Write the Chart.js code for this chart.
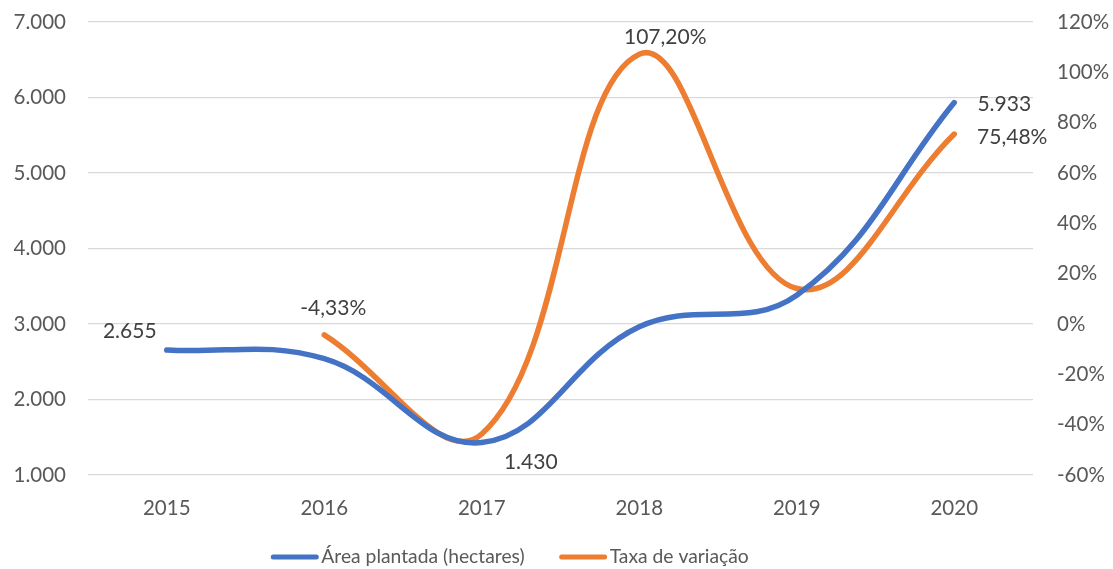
<!DOCTYPE html>
<html><head><meta charset="utf-8">
<script src="https://cdn.jsdelivr.net/npm/chart.js@4"></script>
<style>html,body{margin:0;padding:0;background:#fff}#wrap{width:1113px;height:569px}</style>
</head><body><div id="wrap"><canvas id="c" width="1113" height="569"></canvas></div>
<script>
const years = ['2015','2016','2017','2018','2019','2020'];
const areaPlantada = [2655, 2540, 1430, 2963, 3381, 5933];
const taxaVariacao = [null, -0.0433, -0.437, 1.072, 0.141, 0.7548];
const areaLabelIdx = [0, 2, 5];
const taxaLabelIdx = [1, 3, 5];
const FONT = 'Lato';
const FS = 20.5;
const LFS = 19.3;

const fmtNum = v => Math.round(v).toString().replace(/\B(?=(\d{3})+(?!\d))/g, '.');
const fmtPct = v => (v*100).toFixed(2).replace('.', ',') + '%';
const fmtPctTick = v => Math.round(v*100) + '%';

const labelPlugin = {
  id: 'dl',
  afterDatasetsDraw(chart) {
    const ctx = chart.ctx;
    ctx.save();
    ctx.font = '21px ' + FONT;
    ctx.fillStyle = '#404040';
    ctx.textBaseline = 'middle';
    const m0 = chart.getDatasetMeta(0), m1 = chart.getDatasetMeta(1);
    const offA = {0: [-37, -19], 2: [49, 20], 5: [50, 2]};
    const offT = {1: [9, -27], 3: [26, -17], 5: [58, 3]};
    ctx.textAlign = 'center';
    areaLabelIdx.forEach(i => {
      const p = m0.data[i]; const o = offA[i];
      ctx.fillText(fmtNum(areaPlantada[i]), p.x + o[0], p.y + o[1]);
    });
    taxaLabelIdx.forEach(i => {
      const p = m1.data[i]; const o = offT[i];
      ctx.fillText(fmtPct(taxaVariacao[i]), p.x + o[0], p.y + o[1]);
    });
    ctx.restore();
  }
};

// Legend drawn from the chart's datasets (line sample + label)
const legendPlugin = {
  id: 'lg',
  afterDraw(chart) {
    const ctx = chart.ctx;
    ctx.save();
    ctx.font = LFS + 'px ' + FONT;
    const lineW = 47, gap = 3, itemGap = 35, cy = 557, centerX = 510;
    const items = chart.data.datasets.map(d => ({text: d.label, color: d.borderColor, w: ctx.measureText(d.label).width}));
    const total = items.reduce((s, it) => s + lineW + gap + it.w, 0) + itemGap * (items.length - 1);
    let x = centerX - total / 2;
    items.forEach(it => {
      ctx.strokeStyle = it.color; ctx.lineWidth = 5; ctx.lineCap = 'round';
      ctx.beginPath(); ctx.moveTo(x + 2, cy); ctx.lineTo(x + lineW - 2, cy); ctx.stroke();
      ctx.fillStyle = '#595959'; ctx.textAlign = 'left'; ctx.textBaseline = 'middle';
      ctx.fillText(it.text, x + lineW + gap, cy);
      x += lineW + gap + it.w + itemGap;
    });
    ctx.restore();
  }
};

const padFix = s => { s.paddingTop = 0; s.paddingBottom = 0; };

new Chart(document.getElementById('c'), {
  type: 'line',
  data: {
    labels: years,
    datasets: [
      {label: 'Área plantada (hectares)', data: areaPlantada, borderColor: '#4472C4', backgroundColor: '#4472C4',
       borderWidth: 5.5, pointRadius: 0, tension: 0.4, yAxisID: 'y', borderCapStyle: 'round'},
      {label: 'Taxa de variação', data: taxaVariacao, borderColor: '#ED7D31', backgroundColor: '#ED7D31',
       borderWidth: 5.5, pointRadius: 0, tension: 0.4, yAxisID: 'y1', borderCapStyle: 'round'}
    ]
  },
  options: {
    responsive: false, animation: false,
    layout: {padding: {top: 22, left: 0, right: 0, bottom: 0}},
    plugins: {
      tooltip: {enabled: false},
      legend: {display: false}
    },
    scales: {
      x: {
        offset: true,
        grid: {display: false, drawTicks: false}, border: {display: false},
        ticks: {color: '#595959', font: {family: FONT, size: FS}, padding: 21},
        afterFit(s) { s.height = 94; }
      },
      y: {
        position: 'left', min: 1000, max: 7000,
        ticks: {stepSize: 1000, color: '#595959', font: {family: FONT, size: FS}, padding: 22, callback: v => fmtNum(v)},
        grid: {color: '#d9d9d9', lineWidth: 1.3, drawTicks: false}, border: {display: false},
        afterFit(s) { s.width = 88; padFix(s); }
      },
      y1: {
        position: 'right', min: -0.6, max: 1.2,
        ticks: {stepSize: 0.2, color: '#595959', font: {family: FONT, size: FS}, padding: 24, callback: v => fmtPctTick(v)},
        grid: {display: false, drawTicks: false}, border: {display: false},
        afterFit(s) { s.width = 80; padFix(s); }
      }
    }
  },
  plugins: [labelPlugin, legendPlugin]
});
</script></body></html>
